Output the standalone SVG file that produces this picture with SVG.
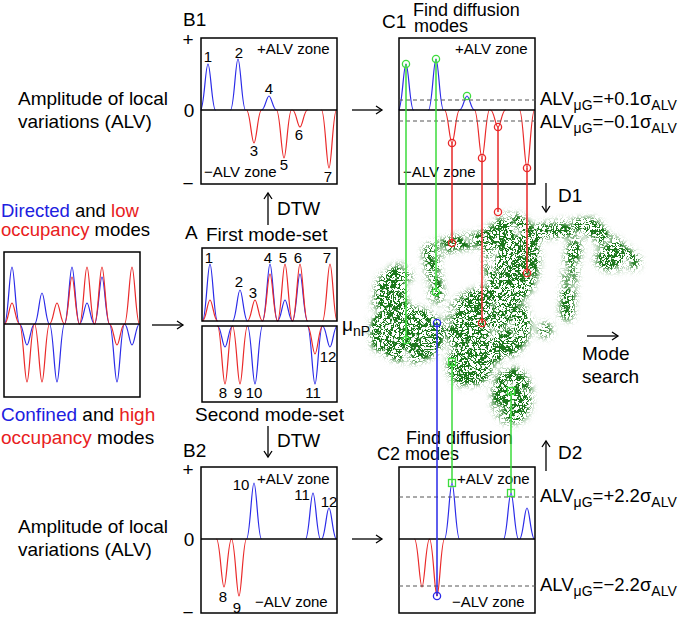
<svg xmlns="http://www.w3.org/2000/svg" width="685" height="624" viewBox="0 0 685 624">
<defs>
<style>
text{font-family:"Liberation Sans",Arial,Helvetica,sans-serif;fill:#000}
.L{font-size:19px}
.S{font-size:15px}
.m{text-anchor:middle}
.box{fill:none;stroke:#000;stroke-width:1.5}
.ax{stroke:#000;stroke-width:1.5}
.bl{fill:none;stroke:#2b2be8;stroke-width:1.2}
.rd{fill:none;stroke:#ea2a2a;stroke-width:1.2}
.dash{stroke:#555;stroke-width:1;stroke-dasharray:4 3}
.arr{fill:none;stroke:#000;stroke-width:1.3;marker-end:url(#ah)}
.gl{stroke:#3ddc3d;stroke-width:1.5;fill:none}
.rl{stroke:#e82828;stroke-width:1.5;fill:none}
.blu{stroke:#2828e8;stroke-width:1.5;fill:none}
.cb{fill:#2020e0}
.cr{fill:#e82020}
</style>
<marker id="ah" markerWidth="12" markerHeight="12" refX="10" refY="6" orient="auto" markerUnits="userSpaceOnUse"><path d="M4,2 L10,6 L4,10" fill="none" stroke="#000" stroke-width="1.3"/></marker>
<filter id="walkTex" x="360" y="195" width="290" height="245" filterUnits="userSpaceOnUse" color-interpolation-filters="sRGB">
<feGaussianBlur in="SourceAlpha" stdDeviation="4" result="m0"/>
<feTurbulence type="fractalNoise" baseFrequency="0.05" numOctaves="2" seed="4" result="n"/>
<feColorMatrix in="n" type="matrix" values="0 0 0 0 0  0 0 0 0 0  0 0 0 0 0  3 0 0 0 -0.5" result="na"/>
<feComposite in="m0" in2="na" operator="in" result="m"/>
<feTurbulence type="turbulence" baseFrequency="0.16" numOctaves="1" seed="2" result="t1"/>
<feColorMatrix in="t1" type="matrix" values="0 0 0 0 0.11  0 0 0 0 0.47  0 0 0 0 0.11  -18 0 0 0 1.6" result="c1"/>
<feTurbulence type="turbulence" baseFrequency="0.26" numOctaves="1" seed="9" result="t2"/>
<feColorMatrix in="t2" type="matrix" values="0 0 0 0 0.11  0 0 0 0 0.47  0 0 0 0 0.11  -18 0 0 0 1.6" result="c2"/>
<feMerge result="c"><feMergeNode in="c1"/><feMergeNode in="c2"/></feMerge>
<feComposite in="c" in2="m" operator="in" result="cm"/>
<feComponentTransfer in="cm"><feFuncA type="linear" slope="2" intercept="0"/></feComponentTransfer>
</filter>
</defs>
<rect width="685" height="624" fill="#fff"/>

<g id="panel-left">
<text x="1" y="217" font-size="18.5"><tspan class="cb">Directed</tspan> and <tspan class="cr">low</tspan></text>
<text x="1" y="236" font-size="18.5"><tspan class="cr">occupancy</tspan> modes</text>
<rect class="box" x="4" y="252" width="136" height="145"/>
<path class="bl" d="M4.5,324 C8,324 9.5,267 12,267 S16,324 19.5,324 C23,324 24.5,345 27,345 S31,324 34.5,324 C38,324 39.5,293 42,293 S46,324 49.5,324 C53,324 54.5,382 57,382 S61,324 64.5,324 C68,324 69.5,267 72,267 S76,324 79.5,324 C83,324 84.5,303 87,303 S91,324 94.5,324 C98,324 99.5,277 102,277 S106,324 109.5,324 C113,324 114.5,382 117,382 S121,324 124.5,324 C128,324 129.5,345 132,345 S136,324 139.5,324"/>
<path class="rd" d="M4.5,324 C8,324 9.5,303 12,303 S16,324 19.5,324 C23,324 24.5,382 27,382 S31,324 34.5,324 C38,324 39.5,382 42,382 S46,324 49.5,324 C53,324 54.5,303 57,303 S61,324 64.5,324 C68,324 69.5,277 72,277 S76,324 79.5,324 C83,324 84.5,267 87,267 S91,324 94.5,324 C98,324 99.5,267 102,267 S106,324 109.5,324 C113,324 114.5,345 117,345 S121,324 124.5,324 C128,324 129.5,267 132,267 S136,324 139.5,324"/>
<line class="ax" x1="4" y1="324" x2="140" y2="324"/>
<text class="L" x="1" y="421"><tspan class="cb">Confined</tspan> and <tspan class="cr">high</tspan></text>
<text class="L" x="1" y="444"><tspan class="cr">occupancy</tspan> modes</text>
</g>

<g id="panel-A">
<text class="L" x="185" y="239">A</text>
<text class="L" x="206" y="241">First mode-set</text>
<path class="bl" d="M202.5,321 C206,321 207.5,264 210,264 S214,321 217.5,321 M232.5,321 C236,321 237.5,290 240,290 S244,321 247.5,321 M262.5,321 C266,321 267.5,264 270,264 S274,321 277.5,321 C281,321 282.5,300 285,300 S289,321 292.5,321 C296,321 297.5,274 300,274 S304,321 307.5,321"/>
<path class="rd" d="M202.5,321 C206,321 207.5,300 210,300 S214,321 217.5,321 M247.5,321 C251,321 252.5,300 255,300 S259,321 262.5,321 C266,321 267.5,274 270,274 S274,321 277.5,321 C281,321 282.5,264 285,264 S289,321 292.5,321 C296,321 297.5,264 300,264 S304,321 307.5,321 M322.5,321 C326,321 327.5,264 330,264 S334,321 337,321"/>
<rect class="box" x="202" y="248" width="135" height="73"/>
<path class="bl" d="M217.5,326 C221,326 222.5,347 225,347 S229,326 232.5,326 M247.5,326 C251,326 252.5,384 255,384 S259,326 262.5,326 M307.5,326 C311,326 312.5,384 315,384 S319,326 322.5,326 C326,326 327.5,347 330,347 S334,326 337,326"/>
<path class="rd" d="M217.5,326 C221,326 222.5,384 225,384 S229,326 232.5,326 C236,326 237.5,384 240,384 S244,326 247.5,326 M307.5,326 C311,326 312.5,354 315,354 S319,326 322.5,326"/>
<rect class="box" x="202" y="326" width="135" height="76"/>
<g class="S m">
<text x="209" y="263">1</text><text x="239" y="287">2</text><text x="253" y="298">3</text><text x="268" y="263">4</text><text x="283" y="263">5</text><text x="298" y="263">6</text><text x="327" y="263">7</text>
<text x="223" y="398">8</text><text x="238" y="398">9</text><text x="254" y="398">10</text><text x="313" y="398">11</text><text x="328" y="362">12</text>
</g>
<text class="L" x="342" y="331">μ<tspan font-size="14" dy="5">nP</tspan></text>
<text class="L" x="195" y="421">Second mode-set</text>
</g>

<g id="panel-B1">
<text class="L" x="183" y="26">B1</text>
<text class="L m" x="188" y="46">+</text>
<text class="L m" x="189" y="117">0</text>
<text class="L m" x="188" y="190">−</text>
<text class="L" x="18" y="105">Amplitude of local</text>
<text class="L" x="18" y="128">variations (ALV)</text>
<g id="b1c">
<path class="bl" d="M200.5,110 C204,110 205.5,64 208,64 S212,110 215.5,110 M230.5,110 C234,110 235.5,59 238,59 S242,110 245.5,110 M261.5,110 C265,110 266.5,96 269,96 S273,110 276.5,110"/>
<path class="rd" d="M246.5,110 C250,110 251.5,143 254,143 S258,110 261.5,110 M276.5,110 C280,110 281.5,158 284,158 S288,110 291.5,110 M292.5,110 C296,110 297.5,127 300,127 S304,110 307.5,110 M321.5,110 C325,110 326.5,168 329,168 S333,110 336.5,110"/>
<rect class="box" x="201" y="38" width="136" height="146"/>
<line class="ax" x1="201" y1="110" x2="337" y2="110"/>
</g>
<text class="S" x="257" y="54">+ALV zone</text>
<text class="S" x="204" y="177">−ALV zone</text>
<g class="S m">
<text x="208" y="62">1</text><text x="239" y="58">2</text><text x="269" y="94">4</text><text x="254" y="156">3</text><text x="284" y="170">5</text><text x="299" y="140">6</text><text x="328" y="182">7</text>
</g>
</g>

<g id="panel-C1">
<text class="L" x="382" y="28">C1</text>
<text x="413" y="16" font-size="18">Find diffusion</text>
<text x="414" y="32" font-size="18">modes</text>
<use href="#b1c" x="198"/>
<line class="dash" x1="399" y1="100" x2="536" y2="100"/>
<line class="dash" x1="399" y1="121" x2="536" y2="121"/>
<text class="S" x="455" y="54">+ALV zone</text>
<text class="S" x="403" y="177">−ALV zone</text>
<text x="540" y="105" font-size="18.5">ALV<tspan dy="5" font-size="14">μG</tspan><tspan dy="-5">=+0.1σ</tspan><tspan dy="5" font-size="14">ALV</tspan></text>
<text x="540" y="128" font-size="18.5">ALV<tspan dy="5" font-size="14">μG</tspan><tspan dy="-5">=−0.1σ</tspan><tspan dy="5" font-size="14">ALV</tspan></text>
</g>

<g id="walk" filter="url(#walkTex)">
<g fill="#000" stroke="#000" stroke-linecap="round" stroke-linejoin="round">
<ellipse cx="410" cy="335" rx="32" ry="25"/>
<ellipse cx="392" cy="300" rx="15" ry="28"/>
<ellipse cx="400" cy="276" rx="9" ry="9"/>
<ellipse cx="488" cy="325" rx="40" ry="35"/>
<ellipse cx="470" cy="365" rx="20" ry="20"/>
<ellipse cx="512" cy="258" rx="25" ry="42"/>
<ellipse cx="612" cy="258" rx="15" ry="10"/>
<ellipse cx="512" cy="396" rx="17" ry="26"/>
<ellipse cx="545" cy="330" rx="5" ry="5"/>
<path d="M430,255 C440,245 455,242 480,240 L495,232" fill="none" stroke-width="9"/>
<path d="M430,250 C432,265 434,280 437,297" fill="none" stroke-width="9"/>
<path d="M537,233 C550,230 565,228 592,226 C600,235 610,245 633,262" fill="none" stroke-width="11"/>
<path d="M575,245 C570,265 568,290 567,315" fill="none" stroke-width="9"/>
<path d="M378,345 C374,325 380,305 390,285" fill="none" stroke-width="9"/>
</g>
</g>

<g id="panel-B2">
<text class="L" x="183" y="457">B2</text>
<text class="L m" x="188" y="476">+</text>
<text class="L m" x="189" y="546">0</text>
<text class="L m" x="188" y="619">−</text>
<text class="L" x="18" y="533">Amplitude of local</text>
<text class="L" x="18" y="556">variations (ALV)</text>
<g id="b2c">
<path class="bl" d="M246.5,539 C250,539 251.5,483 254,483 S258,539 261.5,539 M305.5,539 C309,539 310.5,493 313,493 S317,539 320.5,539 M321.5,539 C325,539 326.5,508 329,508 S333,539 336.5,539"/>
<path class="rd" d="M216.5,539 C220,539 221.5,587 224,587 S228,539 231.5,539 C235,539 236.5,596 239,596 S243,539 246.5,539"/>
<rect class="box" x="201" y="467" width="136" height="146"/>
<line class="ax" x1="201" y1="539" x2="337" y2="539"/>
</g>
<text class="S" x="257" y="484">+ALV zone</text>
<text class="S" x="255" y="607">−ALV zone</text>
<g class="S m">
<text x="241" y="490">10</text><text x="302" y="500">11</text><text x="329" y="507">12</text><text x="223" y="602">8</text><text x="237" y="613">9</text>
</g>
</g>

<g id="panel-C2">
<text x="406" y="444" font-size="18">Find diffusion</text>
<text x="377" y="460" font-size="18">C2 modes</text>
<use href="#b2c" x="198"/>
<line class="dash" x1="399" y1="497" x2="536" y2="497"/>
<line class="dash" x1="399" y1="586" x2="536" y2="586"/>
<text class="S" x="457" y="484">+ALV zone</text>
<text class="S" x="452" y="607">−ALV zone</text>
<text x="540" y="502" font-size="18.5">ALV<tspan dy="5" font-size="14">μG</tspan><tspan dy="-5">=+2.2σ</tspan><tspan dy="5" font-size="14">ALV</tspan></text>
<text x="540" y="591" font-size="18.5">ALV<tspan dy="5" font-size="14">μG</tspan><tspan dy="-5">=−2.2σ</tspan><tspan dy="5" font-size="14">ALV</tspan></text>
</g>

<g id="labels">
<text class="L" x="277" y="215">DTW</text>
<text class="L" x="277" y="447">DTW</text>
<text class="L" x="558" y="202">D1</text>
<text class="L" x="558" y="459">D2</text>
<text class="L" x="582" y="360">Mode</text>
<text class="L" x="582" y="383">search</text>
</g>

<g id="connectors">
<path class="arr" d="M152,325 H183"/>
<path class="arr" d="M352,110 H382"/>
<path class="arr" d="M352,539 H382"/>
<path class="arr" d="M268,225 V193"/>
<path class="arr" d="M268,426 V457"/>
<path class="arr" d="M546,183 V212"/>
<path class="arr" d="M546,471 V441"/>
<path class="arr" d="M587,336 H618"/>
<path class="gl" d="M406,64 V340 M436,59 V292"/>
<path class="rl" d="M452,143 V243 M482,158 V323 M498,127 V212 M527,168 V273"/>
<path class="blu" d="M437,323 V596"/>
<path class="gl" d="M452,362 V483 M511,391 V493"/>
<g fill="none" stroke-width="1.3">
<g stroke="#3ddc3d"><circle cx="406" cy="64" r="3.6"/><circle cx="436" cy="59" r="3.6"/><circle cx="467" cy="96" r="3.6"/><circle cx="406" cy="340" r="3.6"/><circle cx="436" cy="292" r="3.6"/>
<rect x="448.5" y="358.5" width="7" height="7"/><rect x="507.5" y="387.5" width="7" height="7"/><rect x="448.5" y="479.5" width="7" height="7"/><rect x="507.5" y="489.5" width="7" height="7"/></g>
<g stroke="#e82828"><circle cx="452" cy="143" r="3.6"/><circle cx="482" cy="158" r="3.6"/><circle cx="498" cy="127" r="3.6"/><circle cx="527" cy="168" r="3.6"/><circle cx="452" cy="243" r="3.6"/><circle cx="482" cy="323" r="3.6"/><circle cx="498" cy="212" r="3.6"/><circle cx="527" cy="273" r="3.6"/></g>
<g stroke="#2828e8"><circle cx="437" cy="323" r="3.6"/><circle cx="437" cy="596" r="3.6"/></g>
</g>
</g>
</svg>
